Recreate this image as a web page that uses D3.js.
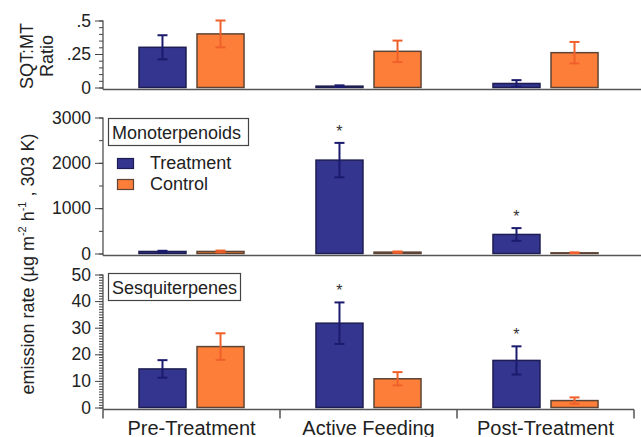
<!DOCTYPE html>
<html>
<head>
<meta charset="utf-8">
<script src="https://cdn.jsdelivr.net/npm/d3@7"></script>
<style>
  body { margin: 0; background: #fff; }
  svg { display: block; font-family: "Liberation Sans", Arial, sans-serif; }
</style>
</head>
<body>
<div id="graphicContainer"></div>
<script>

var categories = ["Pre-Treatment", "Active Feeding", "Post-Treatment"];
var groups = ["Treatment", "Control"];

// SQT:MT ratio
var ratioTreatment = [0.30, 0.01, 0.03];
var ratioTreatmentErr = [0.09, 0.006, 0.025];
var ratioControl = [0.40, 0.27, 0.26];
var ratioControlErr = [0.10, 0.08, 0.08];

// monoterpenoids
var monoTreatment = [45, 2060, 420];
var monoTreatmentErr = [15, 380, 140];
var monoControl = [45, 30, 15];
var monoControlErr = [20, 15, 10];
var monoSig = [false, true, true];

// sesquiterpenes
var sesqTreatment = [14.5, 31.7, 17.7];
var sesqTreatmentErr = [3.3, 7.8, 5.3];
var sesqControl = [22.9, 10.8, 2.6];
var sesqControlErr = [5.0, 2.5, 1.2];
var sesqSig = [false, true, true];

var ratioTicks = [0, 0.25, 0.5];
var ratioTickLabels = ["0", ".25", ".5"];
var monoTicks = [0, 1000, 2000, 3000];
var sesqTicks = [0, 10, 20, 30, 40, 50];

var fills = { Treatment: "#34358e", Control: "#fd7e38" };
var strokes = { Treatment: "#1d1d52", Control: "#5e4434" };
var errColors = { Treatment: "#1b1b6e", Control: "#f0602a" };

var W = 641, H = 437;
var axisX = 103;

var svg = d3.select("#graphicContainer").append("svg")
    .attr("width", W)
    .attr("height", H);

var x = d3.scaleBand().domain(categories).range([103, 634]);
var xInner = d3.scaleBand().domain(groups).range([0, x.bandwidth()])
    .paddingInner(0.19).paddingOuter(0.62);

function rows(t, te, c, ce, sig) {
    return categories.map(function(cat, i) {
        return [
            { cat: cat, g: "Treatment", v: t[i], e: te[i], sig: sig ? sig[i] : false },
            { cat: cat, g: "Control", v: c[i], e: ce[i], sig: false }
        ];
    }).flat();
}

function panel(opt) {

    var y = d3.scaleLinear().domain(opt.domain).range(opt.range);
    var g = svg.append("g");
    var base = opt.range[0] + 2;

    // minor ticks
    g.append("g")
        .attr("transform", "translate(" + axisX + ",0)")
        .call(d3.axisLeft(y).tickValues(d3.range(opt.domain[0], opt.domain[1] + 1e-9, opt.minor)).tickSize(4).tickFormat(""))
        .call(function(a) { a.select(".domain").remove(); a.selectAll("line").attr("stroke", "#444"); });

    // major ticks
    g.append("g")
        .attr("transform", "translate(" + axisX + ",0)")
        .call(d3.axisLeft(y).tickValues(opt.ticks).tickSize(8).tickPadding(4)
            .tickFormat(function(d, i) { return opt.labels ? opt.labels[i] : d; }))
        .call(function(a) {
            a.select(".domain").remove();
            a.selectAll("line").attr("stroke", "#444");
            a.selectAll("text").attr("font-size", 17.5).attr("fill", "#222")
                .attr("font-family", "Liberation Sans, Arial, sans-serif");
        });

    g.append("line")
        .attr("x1", axisX).attr("x2", axisX)
        .attr("y1", y(opt.domain[1])).attr("y2", base)
        .attr("stroke", "#444").attr("stroke-width", 1.2);

    g.append("line")
        .attr("x1", axisX).attr("x2", opt.baseEnd)
        .attr("y1", base).attr("y2", base)
        .attr("stroke", "#555").attr("stroke-width", 1.5);

    var data = opt.data;

    g.selectAll("rect.bar")
        .data(data)
      .enter().append("rect")
        .attr("class", "bar")
        .attr("x", function(d) { return x(d.cat) + xInner(d.g); })
        .attr("width", xInner.bandwidth())
        .attr("y", function(d) { return y(d.v); })
        .attr("height", function(d) { return Math.max(0.5, y(0) - y(d.v)); })
        .attr("fill", function(d) { return fills[d.g]; })
        .attr("stroke", function(d) { return strokes[d.g]; })
        .attr("stroke-width", 1.5);

    var err = g.selectAll("g.err")
        .data(data)
      .enter().append("g")
        .attr("class", "err")
        .attr("stroke", function(d) { return errColors[d.g]; })
        .attr("stroke-width", 2);

    var cx = function(d) { return x(d.cat) + xInner(d.g) + xInner.bandwidth() / 2; };

    err.append("line")
        .attr("x1", cx).attr("x2", cx)
        .attr("y1", function(d) { return y(d.v + d.e); })
        .attr("y2", function(d) { return y(Math.max(0, d.v - d.e)); });
    err.append("line")
        .attr("x1", function(d) { return cx(d) - 5; }).attr("x2", function(d) { return cx(d) + 5; })
        .attr("y1", function(d) { return y(d.v + d.e); })
        .attr("y2", function(d) { return y(d.v + d.e); });
    err.append("line")
        .attr("x1", function(d) { return cx(d) - 5; }).attr("x2", function(d) { return cx(d) + 5; })
        .attr("y1", function(d) { return y(Math.max(0, d.v - d.e)); })
        .attr("y2", function(d) { return y(Math.max(0, d.v - d.e)); });

    g.selectAll("text.sig")
        .data(data.filter(function(d) { return d.sig; }))
      .enter().append("text")
        .attr("class", "sig")
        .attr("x", cx)
        .attr("y", function(d) { return y(d.v + d.e) - 6; })
        .attr("text-anchor", "middle")
        .attr("font-size", 16)
        .attr("fill", "#333")
        .text("*");

    if (opt.title) {
        var t = g.append("g");
        t.append("rect")
            .attr("x", 108.5).attr("y", opt.titleY + 0.5)
            .attr("width", opt.titleW).attr("height", 27)
            .attr("fill", "#fff").attr("stroke", "#444").attr("stroke-width", 1.2);
        t.append("text")
            .attr("x", 112).attr("y", opt.titleY + 20.5)
            .attr("font-size", 18).attr("fill", "#222")
            .text(opt.title);
    }

    return { g: g, y: y, base: base };
}

panel({
    domain: [0, 0.5], range: [87.5, 20.5], ticks: ratioTicks, labels: ratioTickLabels, minor: 0.05,
    baseEnd: W,
    data: rows(ratioTreatment, ratioTreatmentErr, ratioControl, ratioControlErr)
});

var mid = panel({
    domain: [0, 3000], range: [253.5, 117.5], ticks: monoTicks, minor: 500,
    baseEnd: W,
    data: rows(monoTreatment, monoTreatmentErr, monoControl, monoControlErr, monoSig),
    title: "Monoterpenoids", titleY: 118, titleW: 140
});

var bot = panel({
    domain: [0, 50], range: [407.5, 274.5], ticks: sesqTicks, minor: 1,
    baseEnd: 634,
    data: rows(sesqTreatment, sesqTreatmentErr, sesqControl, sesqControlErr, sesqSig),
    title: "Sesquiterpenes", titleY: 273, titleW: 132
});

// legend
var legend = svg.append("g").selectAll("g")
    .data(groups)
  .enter().append("g")
    .attr("transform", function(d, i) { return "translate(117," + (158 + i * 21) + ")"; });

legend.append("rect")
    .attr("x", 0.5).attr("y", 0.5).attr("width", 16).attr("height", 10)
    .attr("fill", function(d) { return fills[d]; })
    .attr("stroke", function(d) { return strokes[d]; })
    .attr("stroke-width", 1.2);

legend.append("text")
    .attr("x", 33).attr("y", 11)
    .attr("font-size", 18).attr("fill", "#222")
    .text(function(d) { return d; });

// category axis along bottom panel
var xAxis = svg.append("g")
    .attr("transform", "translate(0," + bot.base + ")");

xAxis.selectAll("line")
    .data(d3.range(categories.length + 1))
  .enter().append("line")
    .attr("x1", function(i) { return x.range()[0] + i * x.step(); })
    .attr("x2", function(i) { return x.range()[0] + i * x.step(); })
    .attr("y1", 0).attr("y2", 9)
    .attr("stroke", "#555").attr("stroke-width", 1.5);

xAxis.selectAll("text")
    .data(categories)
  .enter().append("text")
    .attr("x", function(d) { return x(d) + x.bandwidth() / 2; })
    .attr("y", 25)
    .attr("text-anchor", "middle")
    .attr("font-size", 20)
    .attr("fill", "#222")
    .text(function(d) { return d; });

// y axis titles
var ratioLabel = svg.append("text")
    .attr("transform", "translate(33,56) rotate(-90)")
    .attr("text-anchor", "middle")
    .attr("font-size", 18)
    .attr("fill", "#222");
ratioLabel.append("tspan").attr("x", 0).attr("y", 0).text("SQT:MT");
ratioLabel.append("tspan").attr("x", 0).attr("y", 20).text("Ratio");

var yLabel = svg.append("text")
    .attr("transform", "translate(34,264) rotate(-90)")
    .attr("text-anchor", "middle")
    .attr("font-size", 18)
    .attr("fill", "#222");
yLabel.append("tspan").text("emission rate (\u00b5g m");
yLabel.append("tspan").attr("font-size", 11).attr("dy", -8).text("-2");
yLabel.append("tspan").attr("dy", 8).text(" h");
yLabel.append("tspan").attr("font-size", 11).attr("dy", -8).text("-1");
yLabel.append("tspan").attr("dy", 8).text(" , 303 K)");

</script>
</body>
</html>
